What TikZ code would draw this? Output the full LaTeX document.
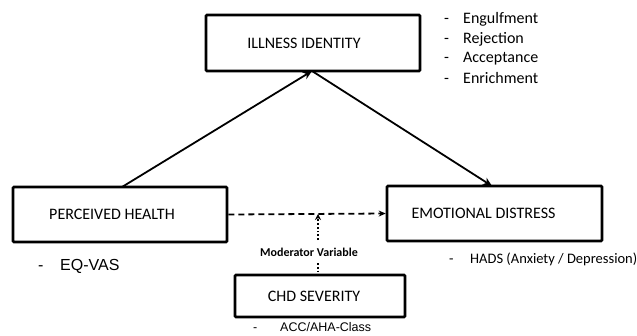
\documentclass[tikz,border=0pt]{standalone}
\usepackage{fontspec}
\setmainfont{Carlito}
\newfontfamily\arialf{Liberation Sans}
\usetikzlibrary{arrows.meta}
\begin{document}
\begin{tikzpicture}[x=1pt,y=-1pt,
  box/.style={draw,line width=2.6pt,rounded corners=1pt,inner sep=0pt,font=\fontsize{16}{19}\selectfont},
  solidarrow/.style={line width=1.8pt,-{Stealth[length=9pt,width=8pt]}},
  listtext/.style={anchor=west,inner sep=0pt,font=\fontsize{16}{19}\selectfont}]
\useasboundingbox (0,0) rectangle (637,335);
\node[box,minimum width=214pt,minimum height=56pt] (ii) at (313,43) {\hspace*{-18pt}ILLNESS IDENTITY};
\node[box,minimum width=214pt,minimum height=55pt] (ph) at (120,214.5) {\hspace*{-16pt}PERCEIVED HEALTH};
\node[box,minimum width=215pt,minimum height=55pt] (ed) at (494.5,213.5) {\hspace*{-22pt}EMOTIONAL DISTRESS};
\node[box,minimum width=170pt,minimum height=42pt] (chd) at (320,296) {\hspace*{-12pt}CHD SEVERITY};
% list
\foreach \t/\yy [count=\i] in {Engulfment/19,Rejection/39,Acceptance/59,Enrichment/78}{
  \node[listtext] (l\i) at (444,\yy) {\makebox[19pt][l]{-}\t};
}
\node[font=\arialf\fontsize{16}{19}\selectfont,inner sep=0pt,anchor=west] (eq) at (38,266) {\makebox[22pt][l]{-}EQ-VAS};
\node[listtext,font=\fontsize{14.5}{17}\selectfont] (hads) at (449,259) {\makebox[21pt][l]{-}HADS (Anxiety / Depression)};
\node[font=\arialf\fontsize{12.5}{15}\selectfont,inner sep=0pt,anchor=west] (acc) at (253,327.5) {\makebox[27pt][l]{-}ACC/AHA-Class};
\node[font=\bfseries\fontsize{12}{14}\selectfont,inner sep=1pt] (mod) at (309,252) {Moderator Variable};
% arrows
\coordinate (apex) at (312,71);
\coordinate (phtop) at (122,187);
\coordinate (edtop) at (492,186);
\draw[solidarrow] (phtop) -- (apex);
\draw[solidarrow] (apex) -- (edtop);
\draw[line width=1.8pt,dash pattern=on 6pt off 4pt,-{Stealth[length=7pt,width=6pt]}] (ph.east) -- (ed.west);
\coordinate (dtop) at (318,214);
\coordinate (dbot) at (318,240);
\coordinate (d2top) at (318,263);
\draw[line width=1.8pt,dotted,-{Stealth[length=6pt,width=6pt]}] (dbot) -- (dtop);
\draw[line width=1.8pt,dotted] (d2top) -- (chd.north -| d2top);
\end{tikzpicture}
\end{document}
